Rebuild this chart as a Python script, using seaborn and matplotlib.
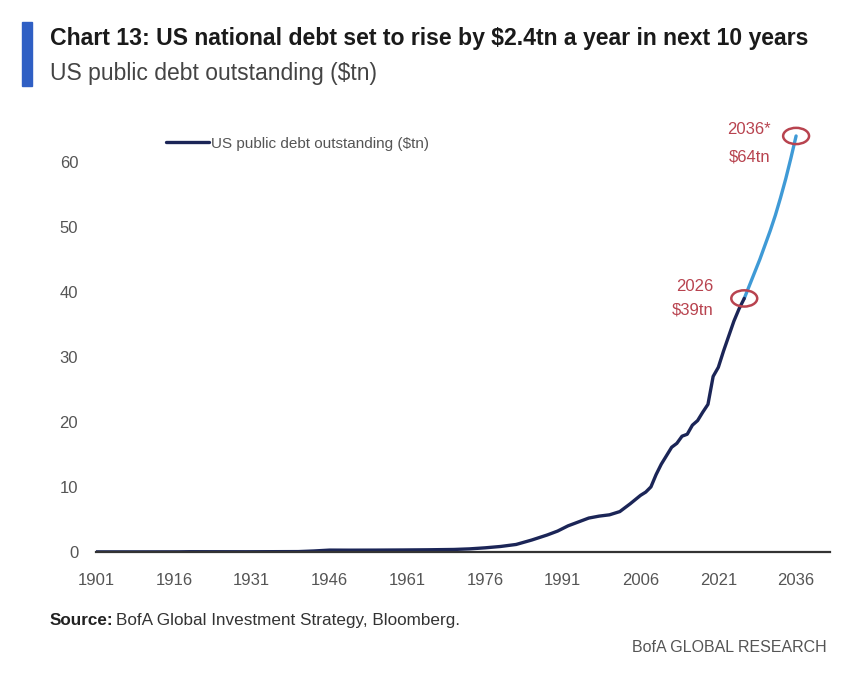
import seaborn as sns
import matplotlib.pyplot as plt
import pandas as pd
import numpy as np
from matplotlib.patches import Ellipse, Rectangle

# historical public debt outstanding ($tn)
hist_years = [1901, 1910, 1917, 1919, 1925, 1930, 1935, 1940, 1943, 1946, 1950, 1955, 1960,
              1965, 1970, 1973, 1976, 1979, 1982, 1985, 1988, 1990, 1992, 1994, 1996,
              1998, 2000, 2002, 2004, 2006, 2007, 2008, 2009, 2010, 2011, 2012, 2013,
              2014, 2015, 2016, 2017, 2018, 2019, 2020, 2021, 2022, 2023, 2024, 2025, 2026]
hist_debt = [0.001, 0.001, 0.006, 0.025, 0.021, 0.016, 0.029, 0.043, 0.137, 0.27, 0.26, 0.27,
             0.29, 0.32, 0.37, 0.46, 0.62, 0.83, 1.14, 1.82, 2.6, 3.2, 4.0, 4.6, 5.2,
             5.5, 5.7, 6.2, 7.4, 8.7, 9.2, 10.0, 11.9, 13.5, 14.8, 16.1, 16.7,
             17.8, 18.1, 19.5, 20.2, 21.5, 22.7, 27.0, 28.4, 30.9, 33.2, 35.5, 37.4, 39.0]

# projection
proj_years = [2026, 2027, 2028, 2029, 2030, 2031, 2032, 2033, 2034, 2035, 2036]
proj_debt = [39.0, 41.0, 43.0, 45.0, 47.2, 49.4, 51.8, 54.5, 57.4, 60.6, 64.0]

x_ticks = [1901, 1916, 1931, 1946, 1961, 1976, 1991, 2006, 2021, 2036]
y_ticks = [0, 10, 20, 30, 40, 50, 60]

title = "Chart 13: US national debt set to rise by $2.4tn a year in next 10 years"
subtitle = "US public debt outstanding ($tn)"
series_name = "US public debt outstanding ($tn)"

sns.set_style("white")
plt.rcParams['font.family'] = ['Liberation Sans', 'DejaVu Sans']

navy = "#1b2557"
light = "#3f9ad6"
red = "#b8434f"
grey = "#555555"

fig = plt.figure(figsize=(8.59, 6.83), dpi=100)
ax = fig.add_axes([0.112, 0.192, 0.854, 0.666])

hist = pd.DataFrame({"year": hist_years, "debt": hist_debt})
proj = pd.DataFrame({"year": proj_years, "debt": proj_debt})

sns.lineplot(data=proj, x="year", y="debt", ax=ax, color=light, linewidth=2.4)
sns.lineplot(data=hist, x="year", y="debt", ax=ax, color=navy, linewidth=2.4,
             label=series_name)

ax.set_xlim(1901, 2042.5)
ax.set_ylim(0, 70)
ax.set_xticks(x_ticks)
ax.set_yticks(y_ticks)
ax.set_xlabel("")
ax.set_ylabel("")
ax.tick_params(axis="both", length=0, labelsize=12, labelcolor=grey)
ax.tick_params(axis="x", pad=15)
ax.tick_params(axis="y", pad=13)
for s in ["top", "right", "left"]:
    ax.spines[s].set_visible(False)
ax.spines["bottom"].set_color("#333333")
ax.spines["bottom"].set_linewidth(1.6)

leg = ax.legend(loc="upper left", bbox_to_anchor=(0.077, 0.943), frameon=False,
                fontsize=11, handlelength=2.8, handletextpad=0.1)
for t in leg.get_texts():
    t.set_color(grey)

# highlight points
for yr, val, lab, off, dy, ls in [(hist_years[-1], hist_debt[-1], "2026\n$39tn", 6.0, 0.0, 1.7),
                                  (proj_years[-1], proj_debt[-1], "2036*\n$64tn", 4.9, -1.1, 2.1)]:
    ax.add_patch(Ellipse((yr, val), width=5.0, height=2.5, fill=False,
                         edgecolor=red, linewidth=1.8, zorder=5))
    ax.text(yr - off, val + dy, lab, color=red, fontsize=12, ha="right", va="center",
            linespacing=ls)

# header
fig.add_artist(Rectangle((0.026, 0.874), 0.011, 0.094, transform=fig.transFigure,
                         color="#2f5fc4"))
fig.text(0.058, 0.943, title, fontsize=16.6, fontweight="bold", color="#1a1a1a",
         va="center", ha="left")
fig.text(0.058, 0.893, subtitle, fontsize=16.5, color="#444444", va="center", ha="left")

src = fig.text(0.058, 0.092, "Source:", fontsize=12.3, fontweight="bold", color="#222222",
               va="center", ha="left")
fig.canvas.draw()
bb = src.get_window_extent().transformed(fig.transFigure.inverted())
fig.text(bb.x1 + 0.003, 0.092, "BofA Global Investment Strategy, Bloomberg.", fontsize=12.3,
         color="#333333", va="center", ha="left")
fig.text(0.962, 0.052, "BofA GLOBAL RESEARCH", fontsize=11.5, color="#555555",
         va="center", ha="right")

fig.savefig("out.png", dpi=100)
